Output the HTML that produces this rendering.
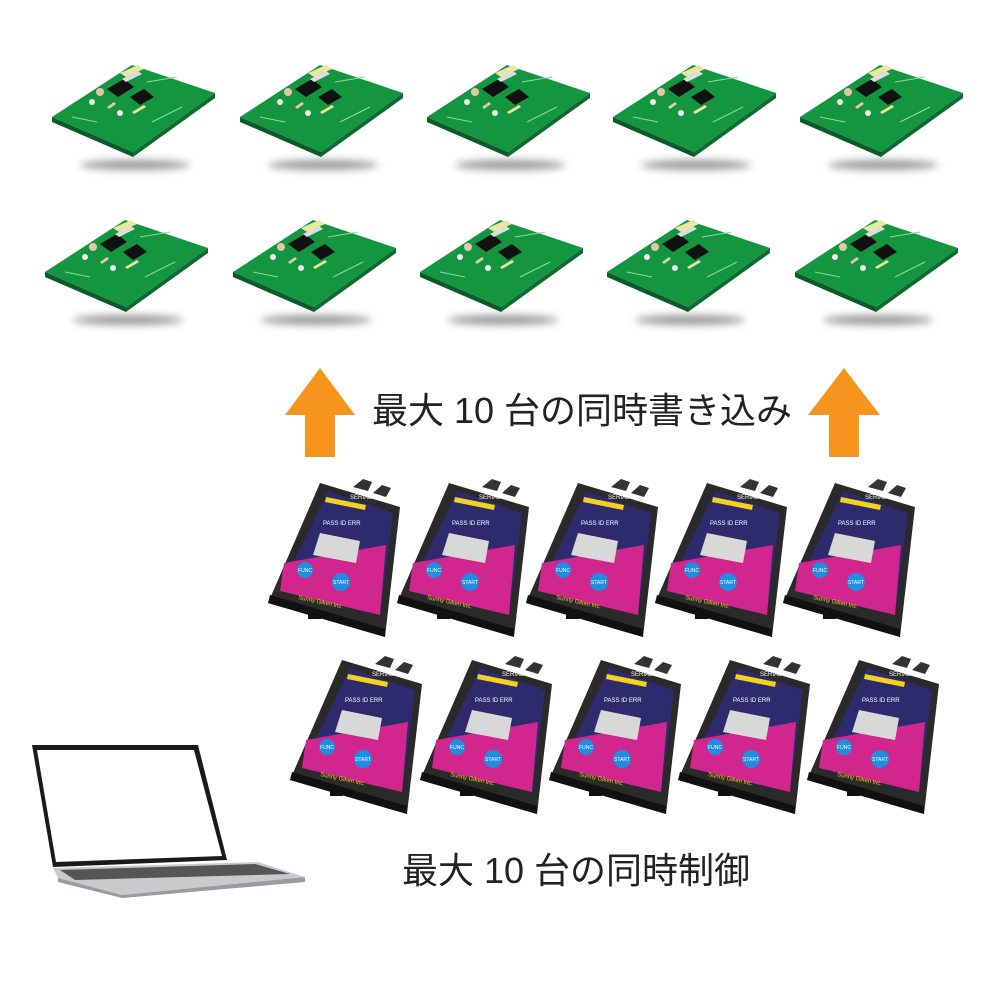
<!DOCTYPE html>
<html><head><meta charset="utf-8"><style>
html,body{margin:0;padding:0;background:#fff;}
svg{display:block}
</style></head><body>
<svg width="1000" height="1000" viewBox="0 0 1000 1000" xmlns="http://www.w3.org/2000/svg">
<defs>
<filter id="blur" x="-50%" y="-200%" width="200%" height="500%"><feGaussianBlur stdDeviation="4"/></filter>
<g id="pcb">
  <ellipse cx="83" cy="48" rx="55" ry="5" fill="#9a9a9a" filter="url(#blur)"/>
  <polygon points="0,0 81,35 81,40 0,5" fill="#0b5a2a"/>
  <polygon points="81,35 163,-24 163,-19 81,40" fill="#0e6a32"/>
  <polygon points="0,0 80,-52 163,-24 81,35" fill="#13963f"/>
  <polygon points="55,-28 72,-38 82,-30 66,-20" fill="#111"/>
  <polygon points="78,-20 92,-28 102,-20 88,-12" fill="#111"/>
  <polygon points="68,-44 86,-52 92,-48 74,-40" fill="#e8e8a0"/>
  <polygon points="70,-38 86,-46 90,-43 74,-35" fill="#ddd"/>
  <circle cx="48" cy="-25" r="4" fill="#e6c6a8"/>
  <circle cx="40" cy="-15" r="3" fill="#eee"/>
  <circle cx="68" cy="-4" r="3" fill="#eee"/>
  <polygon points="55,-10 62,-15 64,-13 57,-8" fill="#e6c6a8"/>
  <polygon points="80,-5 92,-12 94,-10 82,-3" fill="#e8e8a0"/>
  <line x1="95" y1="-35" x2="125" y2="-40" stroke="#8fd6a0" stroke-width="1"/>
  <line x1="20" y1="0" x2="45" y2="5" stroke="#8fd6a0" stroke-width="1"/>
  <line x1="100" y1="5" x2="130" y2="-10" stroke="#8fd6a0" stroke-width="1"/>
</g>
<g id="dev">
  <polygon points="85,4 95,-4 104,-1 100,8" fill="#333"/>
  <polygon points="105,10 114,2 123,5 118,14" fill="#333"/>
  <polygon points="52,0 132,24 117,154 0,120" fill="#2a2a2a"/>
  <polygon points="0,120 117,154 117,146 2,112" fill="#111"/>
  <polygon points="60,8 125,30 112,132 12,108" fill="#2e2a6e"/>
  <polygon points="16,80 50,74 118,62 112,132 12,108" fill="#d0268e"/>
  <polygon points="52,50 92,58 88,80 45,72" fill="#d8d8d8"/>
  <polygon points="58,14 98,22 97,27 57,19" fill="#f1d21c"/>
  <circle cx="37" cy="87" r="8" fill="#1f8de0"/>
  <circle cx="73" cy="99" r="9" fill="#1f8de0"/>
  <text x="37" y="89" font-size="5" fill="#fff" text-anchor="middle" font-family="Liberation Sans,sans-serif">FUNC</text>
  <text x="73" y="101" font-size="5" fill="#fff" text-anchor="middle" font-family="Liberation Sans,sans-serif">START</text>
  <text x="82" y="16" font-size="6" fill="#fff" font-family="Liberation Sans,sans-serif">SERIAL</text>
  <text x="55" y="42" font-size="6" fill="#fff" font-family="Liberation Sans,sans-serif">PASS  ID ERR</text>
  <text x="30" y="116" font-size="6" fill="#f1d21c" font-family="Liberation Sans,sans-serif" transform="rotate(12 30 116)">Sunny Giken Inc.</text>
  <rect x="40" y="130" width="13" height="6" fill="#111"/>
</g>
</defs>

<use href="#pcb" x="52" y="117"/>
<use href="#pcb" x="240" y="117"/>
<use href="#pcb" x="427" y="117"/>
<use href="#pcb" x="613" y="117"/>
<use href="#pcb" x="800" y="117"/>
<use href="#pcb" x="45" y="272"/>
<use href="#pcb" x="233" y="272"/>
<use href="#pcb" x="420" y="272"/>
<use href="#pcb" x="607" y="272"/>
<use href="#pcb" x="795" y="272"/>

<polygon points="320,368 355,415 335,415 335,457 305,457 305,415 285,415" fill="#f7941d"/>
<polygon points="844,368 880,415 859,415 859,457 829,457 829,415 808,415" fill="#f7941d"/>

<text x="372" y="423" font-size="36" fill="#222" font-family="Liberation Sans,'Noto Sans CJK JP',sans-serif">最大 10 台の同時書き込み</text>

<use href="#dev" x="268" y="483"/>
<use href="#dev" x="397" y="483"/>
<use href="#dev" x="526" y="483"/>
<use href="#dev" x="655" y="483"/>
<use href="#dev" x="783" y="483"/>
<use href="#dev" x="290" y="660"/>
<use href="#dev" x="420" y="660"/>
<use href="#dev" x="549" y="660"/>
<use href="#dev" x="678" y="660"/>
<use href="#dev" x="807" y="660"/>

<polygon points="32,745 198,745 227,860 53,867" fill="#1a1a1a"/>
<polygon points="37,750 194,750 222,856 56,862" fill="#ffffff"/>
<polygon points="53,868 258,862 305,877 122,895 58,878" fill="#c9cacc"/>
<polygon points="60,870 255,864 290,874 75,880" fill="#555"/>
<polygon points="58,878 122,895 305,877 305,882 122,898 58,882" fill="#9a9b9e"/>

<text x="402" y="883" font-size="36" fill="#222" font-family="Liberation Sans,'Noto Sans CJK JP',sans-serif">最大 10 台の同時制御</text>
</svg>
</body></html>
